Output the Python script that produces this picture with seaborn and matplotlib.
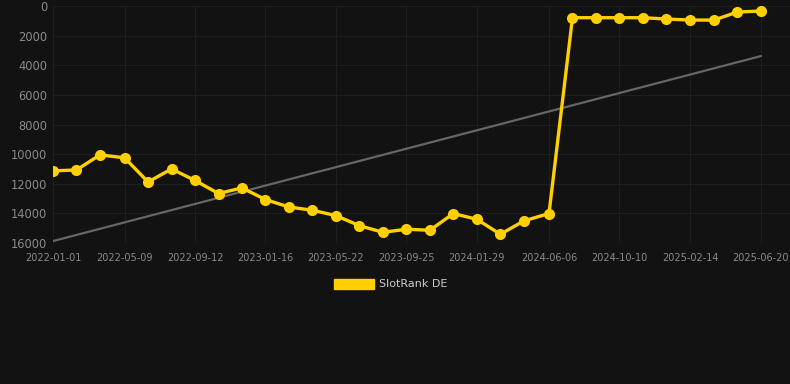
import pandas as pd
import matplotlib
matplotlib.use("Agg")
import matplotlib.pyplot as plt
import matplotlib.patches as mpatches
import seaborn as sns

dates = ["2022-01-01", "2022-02-12", "2022-03-26", "2022-05-09", "2022-06-20",
         "2022-08-01", "2022-09-12", "2022-10-24", "2022-12-05", "2023-01-16",
         "2023-02-27", "2023-04-10", "2023-05-22", "2023-07-03", "2023-08-14",
         "2023-09-25", "2023-11-06", "2023-12-18", "2024-01-29", "2024-03-11",
         "2024-04-22", "2024-06-06", "2024-07-18", "2024-08-29", "2024-10-10",
         "2024-11-21", "2025-01-02", "2025-02-14", "2025-03-28", "2025-05-09",
         "2025-06-20"]
rank = [11130, 11070, 10050, 10250, 11880, 11000, 11780, 12660, 12280, 13070,
        13570, 13790, 14150, 14830, 15280, 15070, 15140, 14010, 14400, 15410,
        14510, 14010, 790, 790, 790, 790, 880, 950, 950, 405, 340]
trend_dates = ["2022-01-01", "2025-06-20"]
trend_values = [15870, 3380]
tick_labels = dates[::3]

bg = "#121212"
yellow = "#ffd000"

sns.set_style("dark", {"axes.facecolor": bg, "figure.facecolor": bg,
                       "grid.color": "#1e1e1e", "axes.grid": True})

df = pd.DataFrame({"date": pd.to_datetime(dates), "rank": rank})
trend = pd.DataFrame({"date": pd.to_datetime(trend_dates), "rank": trend_values})

fig = plt.figure(figsize=(7.9, 3.84), dpi=100)
ax = fig.add_axes([53 / 790, (384 - 243) / 384, (790 - 53) / 790, (243 - 6) / 384])

sns.lineplot(data=trend, x="date", y="rank", ax=ax, color="#666666", linewidth=1.6)
sns.lineplot(data=df, x="date", y="rank", ax=ax, color=yellow, linewidth=2.4,
             marker="o", markersize=8, markeredgewidth=0)

ax.set_ylim(16000, 0)
ax.set_yticks(range(0, 16001, 2000))
ax.set_xlim(pd.Timestamp("2022-01-01"), pd.Timestamp("2025-06-20") + pd.Timedelta(days=52))
ax.set_xticks(pd.to_datetime(tick_labels))
ax.set_xticklabels(tick_labels)
ax.tick_params(axis="y", labelsize=8.3, colors="#8a8a8a", length=0, pad=4)
ax.tick_params(axis="x", labelsize=7, colors="#8a8a8a", length=6, color="#1e1e1e", pad=1)
ax.grid(True, color="#1e1e1e", linewidth=0.8)
ax.set_xlabel("")
ax.set_ylabel("")
for s in ax.spines.values():
    s.set_visible(False)

handle = mpatches.Patch(color=yellow, label="SlotRank DE")
fig.legend(handles=[handle], loc="center", bbox_to_anchor=(0.494, 1 - 284 / 384),
           frameon=False, fontsize=8, labelcolor="#cccccc",
           handlelength=3.6, handleheight=1.0, handletextpad=0.45)

fig.savefig("out.png", dpi=100, facecolor=bg)
